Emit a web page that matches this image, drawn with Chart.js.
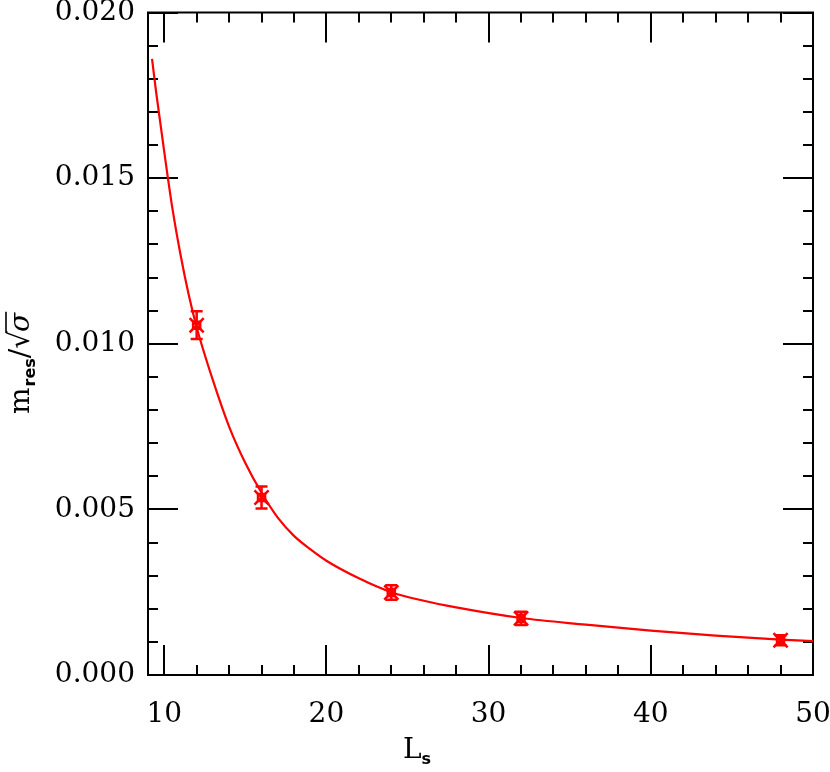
<!DOCTYPE html>
<html><head><meta charset="utf-8">
<script src="https://cdn.jsdelivr.net/npm/chart.js@4/dist/chart.umd.min.js"></script>
<style>html,body{margin:0;padding:0;background:#fff;}</style>
</head><body>
<canvas id="c" width="830" height="772"></canvas>
<script>
// measured points (L_s, m_res/sqrt(sigma), error)
const pointLs  = [12, 16, 24, 32, 48];
const pointM   = [0.01056, 0.00536, 0.00249, 0.00171, 0.00105];
const pointErr = [0.00042, 0.00033, 0.00022, 0.00020, 0.00015];

// fit curve
const fitLs = [9.25, 9.5, 10, 10.5, 11, 11.5, 12, 13, 14, 15, 16, 17, 18, 19, 20, 22, 24, 26, 28, 32, 36, 40, 44, 48, 50];
const fitM  = [0.0186, 0.0176, 0.0158, 0.0141, 0.0127, 0.0115, 0.0105, 0.0089, 0.0075, 0.0064, 0.0055, 0.00475, 0.0042, 0.0038, 0.00345, 0.00292, 0.0025, 0.00224, 0.00204, 0.00172, 0.00152, 0.00134, 0.00119, 0.00107, 0.00102];

const xMajorTicks = [10, 20, 30, 40, 50];
const xMinorTicks = [12, 14, 16, 18, 22, 24, 26, 28, 32, 34, 36, 38, 42, 44, 46, 48];
const yMajorTicks = [0.000, 0.005, 0.010, 0.015, 0.020];
const yMinorTicks = [0.001, 0.002, 0.003, 0.004, 0.006, 0.007, 0.008, 0.009, 0.011, 0.012, 0.013, 0.014, 0.016, 0.017, 0.018, 0.019];

const RED = '#ff0000';
const FONT = '"DejaVu Serif", serif';

const framePlugin = {
  id: 'frame',
  beforeDatasetsDraw(chart) {
    const {ctx, chartArea: a, scales: {x, y}} = chart;
    ctx.save();
    ctx.strokeStyle = '#000';
    ctx.lineWidth = 2;
    ctx.beginPath();
    const tick = (px, len, vertical) => {
      if (vertical) {
        ctx.moveTo(px, a.bottom); ctx.lineTo(px, a.bottom - len);
        ctx.moveTo(px, a.top); ctx.lineTo(px, a.top + len);
      } else {
        ctx.moveTo(a.left, px); ctx.lineTo(a.left + len, px);
        ctx.moveTo(a.right, px); ctx.lineTo(a.right - len, px);
      }
    };
    xMajorTicks.forEach(v => tick(Math.round(x.getPixelForValue(v)), 30, true));
    xMinorTicks.forEach(v => tick(Math.round(x.getPixelForValue(v)), 10, true));
    yMajorTicks.forEach(v => tick(Math.round(y.getPixelForValue(v)), 30, false));
    yMinorTicks.forEach(v => tick(Math.round(y.getPixelForValue(v)), 10, false));
    ctx.stroke();
    ctx.strokeRect(a.left, a.top, a.right - a.left, a.bottom - a.top);
    ctx.restore();
  },
  afterDatasetsDraw(chart) {
    const {ctx, scales: {x, y}} = chart;
    ctx.save();
    ctx.strokeStyle = RED;
    ctx.lineWidth = 2.5;
    ctx.beginPath();
    pointLs.forEach((L, i) => {
      const px = x.getPixelForValue(L);
      const y1 = y.getPixelForValue(pointM[i] + pointErr[i]);
      const y2 = y.getPixelForValue(pointM[i] - pointErr[i]);
      ctx.moveTo(px, y1); ctx.lineTo(px, y2);
      ctx.moveTo(px - 6, y1); ctx.lineTo(px + 6, y1);
      ctx.moveTo(px - 6, y2); ctx.lineTo(px + 6, y2);
    });
    ctx.stroke();
    ctx.restore();
  },
  afterDraw(chart) {
    const {ctx} = chart;
    ctx.save();
    ctx.fillStyle = '#000';
    ctx.textBaseline = 'alphabetic';
    // y title
    ctx.translate(29, 414);
    ctx.rotate(-Math.PI / 2);
    let cx = 0;
    ctx.font = '28px ' + FONT;
    ctx.fillText('m', cx, 0); cx += ctx.measureText('m').width + 1;
    ctx.font = 'bold 16px "DejaVu Sans", sans-serif';
    ctx.fillText('res', cx, 6); cx += ctx.measureText('res').width;
    ctx.font = '28px ' + FONT;
    ctx.fillText('/', cx, 0); cx += ctx.measureText('/').width;
    ctx.fillText('\u221A', cx, 0); cx += ctx.measureText('\u221A').width - 1;
    ctx.font = 'italic 28px ' + FONT;
    const sw = ctx.measureText('\u03C3').width;
    ctx.fillText('\u03C3', cx, 0);
    ctx.lineWidth = 1.6;
    ctx.strokeStyle = '#000';
    ctx.beginPath(); ctx.moveTo(cx - 1, -23); ctx.lineTo(cx + sw + 1, -23); ctx.stroke();
    ctx.restore();
    // x title
    ctx.save();
    ctx.fillStyle = '#000';
    ctx.textBaseline = 'alphabetic';
    ctx.font = '28px ' + FONT;
    const lw = ctx.measureText('L').width;
    ctx.fillText('L', 403, 758);
    ctx.font = 'bold 16px "DejaVu Sans", sans-serif';
    ctx.fillText('s', 403 + lw, 764);
    ctx.restore();
  }
};

new Chart(document.getElementById('c'), {
  type: 'scatter',
  data: {
    datasets: [
      {
        type: 'line',
        data: fitLs.map((L, i) => ({x: L, y: fitM[i]})),
        borderColor: RED,
        borderWidth: 2.2,
        pointRadius: 0,
        fill: false,
        cubicInterpolationMode: 'monotone'
      },
      {
        data: pointLs.map((L, i) => ({x: L, y: pointM[i]})),
        pointStyle: 'crossRot',
        pointRadius: 10,
        borderColor: RED,
        borderWidth: 2.5,
        backgroundColor: RED
      },
      {
        data: pointLs.map((L, i) => ({x: L, y: pointM[i]})),
        pointStyle: 'rect',
        pointRadius: 5,
        borderColor: RED,
        borderWidth: 2.5,
        backgroundColor: 'rgba(0,0,0,0)'
      }
    ]
  },
  options: {
    responsive: false,
    animation: false,
    devicePixelRatio: 1,
    layout: {padding: {top: 11, right: 17, left: 0, bottom: 0}},
    plugins: {legend: {display: false}, tooltip: {enabled: false}},
    scales: {
      x: {
        type: 'linear', min: 9, max: 50,
        afterBuildTicks: s => { s.ticks = xMajorTicks.map(v => ({value: v})); },
        afterFit: s => { s.height = 97; s.paddingLeft = 0; s.paddingRight = 0; },
        grid: {display: false, drawTicks: false},
        border: {display: false},
        ticks: {autoSkip: false, maxRotation: 0, color: '#000', padding: 23,
                font: {family: FONT, size: 28}, callback: v => String(v)}
      },
      y: {
        type: 'linear', min: 0, max: 0.02,
        afterBuildTicks: s => { s.ticks = yMajorTicks.map(v => ({value: v})); },
        afterFit: s => { s.width = 148; s.paddingTop = 0; s.paddingBottom = 0; },
        grid: {display: false, drawTicks: false},
        border: {display: false},
        ticks: {autoSkip: false, color: '#000', padding: 13,
                font: {family: FONT, size: 28}, callback: v => v.toFixed(3)}
      }
    }
  },
  plugins: [framePlugin]
});
</script>
</body></html>
